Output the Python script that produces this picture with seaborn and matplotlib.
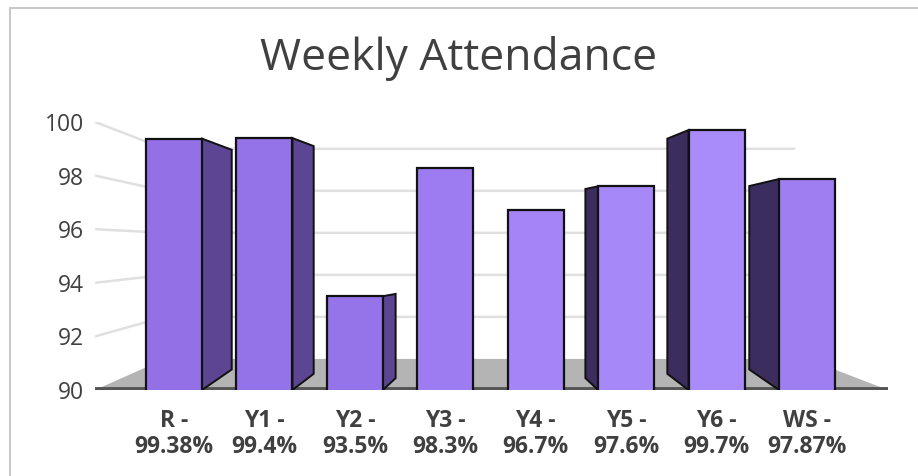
import matplotlib
matplotlib.use("Agg")
import matplotlib.pyplot as plt
import seaborn as sns
import pandas as pd
from matplotlib.patches import Polygon, Rectangle
from matplotlib.lines import Line2D

# data
groups = ["R", "Y1", "Y2", "Y3", "Y4", "Y5", "Y6", "WS"]
attendance = [99.38, 99.4, 93.5, 98.3, 96.7, 97.6, 99.7, 97.87]
tick_labels = ["R -\n99.38%", "Y1 -\n99.4%", "Y2 -\n93.5%", "Y3 -\n98.3%",
               "Y4 -\n96.7%", "Y5 -\n97.6%", "Y6 -\n99.7%", "WS -\n97.87%"]
y_ticks = [90, 92, 94, 96, 98, 100]
front_colors = ["#9370E6", "#9472E8", "#9574E9", "#9D7CF1",
                "#A484F6", "#A788F9", "#AA8BFA", "#9E7EF1"]

df = pd.DataFrame({"group": groups, "value": attendance})

sns.set_style("white")
plt.rcParams["font.family"] = ["Open Sans", "DejaVu Sans"]

W, H = 918, 476
fig = plt.figure(figsize=(W / 100, H / 100), dpi=100)
ax = fig.add_axes([95 / W, 1 - 390 / H, (888 - 95) / W, (390 - 122) / H])

# chart frame (left and top edges only visible)
fig.add_artist(Line2D([10 / W, 10 / W], [0, 1 - 8 / H], transform=fig.transFigure,
                      color="#c8c8c8", lw=1.5))
fig.add_artist(Line2D([10 / W, 1], [1 - 8 / H, 1 - 8 / H], transform=fig.transFigure,
                      color="#c8c8c8", lw=1.5))

xmin, xmax = -0.873, 7.895
ymin, ymax = 90, 100
back_left, back_right, back_floor = -0.1, 7.0, 91.16

# gridlines: slanted on the side wall, flat on the back wall
for t in y_ticks[1:]:
    tb = back_floor + (t - ymin) * 0.784
    ax.plot([xmin, back_left, 6.86], [t, tb, tb], color="#e0e0e0", lw=1.8, zorder=0)

sns.barplot(data=df, x="group", y="value", hue="group", palette=front_colors,
            legend=False, width=0.62, edgecolor="#111111", linewidth=1.6,
            saturation=1, ax=ax, zorder=3)
ax.set_xlim(xmin, xmax)
ax.set_ylim(ymin, ymax)
bars = sorted([p for p in ax.patches if isinstance(p, Rectangle)], key=lambda r: r.get_x())

# floor
floor = Polygon([[xmin, ymin], [xmax, ymin], [back_right, back_floor], [back_left, back_floor]],
                closed=True, facecolor="#b4b4b4", edgecolor="none", zorder=1)
ax.add_patch(floor)
ax.plot([xmin, xmax], [ymin + 0.03, ymin + 0.03], color="#555555", lw=2.8,
        zorder=1, solid_capstyle="butt")

# pseudo 3d side faces, computed from each bar patch
px_x = (888 - 95) / (xmax - xmin)
vanish_y = 95.4
for i, p in enumerate(bars):
    depth_px = 8.5 * (3.5 - i)
    if abs(depth_px) < 5:
        continue
    f = abs(depth_px) / 284.0
    dx = depth_px / px_x
    x0 = p.get_x() + p.get_width() if depth_px > 0 else p.get_x()
    top = p.get_y() + p.get_height()
    bot = ymin
    top_b = top + f * (vanish_y - top)
    bot_b = bot + f * (vanish_y - bot) + 0.2
    side_col = "#5C4592" if depth_px > 0 else "#3B2D5E"
    side = Polygon([[x0, bot], [x0, top], [x0 + dx, top_b], [x0 + dx, bot_b]],
                   closed=True, facecolor=side_col, edgecolor="#111111",
                   lw=1.4, zorder=2)
    ax.add_patch(side)

ax.set_yticks(y_ticks)
ax.set_xticks(range(len(groups)))
ax.set_xticklabels(tick_labels, fontsize=16.5, fontweight="bold", color="#404040",
                   linespacing=1.1)
ax.tick_params(axis="y", labelsize=16.5, colors="#404040", length=0, pad=8)
ax.tick_params(axis="x", length=0, pad=14)
ax.set_xlabel("")
ax.set_ylabel("")
sns.despine(ax=ax, left=True, bottom=True)
ax.grid(False)

fig.text(0.5, 1 - 70 / H, "Weekly Attendance", ha="center", va="baseline",
         fontsize=32, color="#404040")

fig.savefig("out.png", dpi=100)
